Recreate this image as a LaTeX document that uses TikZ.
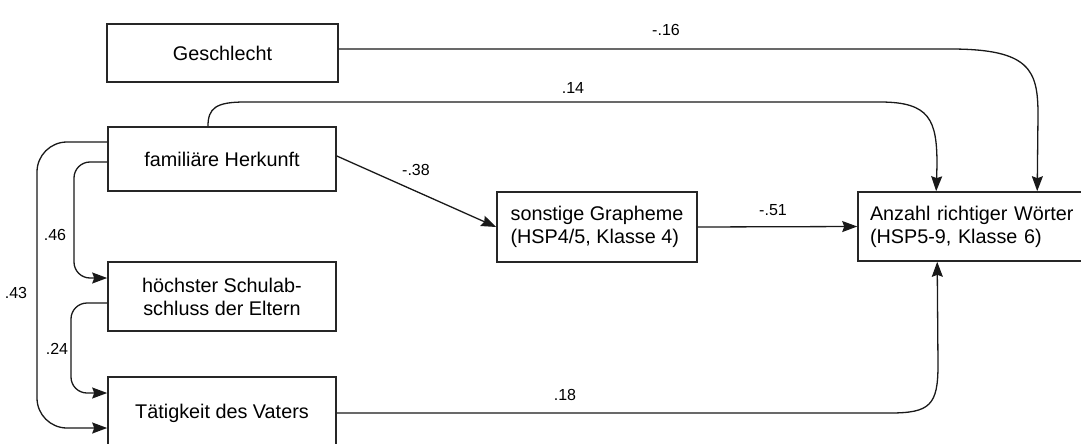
\documentclass[tikz,border=0pt]{standalone}
\usepackage{fontspec}
\setmainfont{Liberation Sans}
\usetikzlibrary{arrows.meta}
\begin{document}
\begin{tikzpicture}[x=1pt,y=-1pt,
  box/.style={draw=black!85,line width=1.6pt,inner sep=0pt,font=\fontsize{19.8}{23}\selectfont},
  lab/.style={inner sep=0pt,font=\fontsize{16}{18}\selectfont},
  arr/.style={draw=black!90,line width=1.3pt,-{Stealth[length=15pt,width=11pt,inset=2pt]}}]
\useasboundingbox (0,0) rectangle (1081,444);
\node[box,minimum width=231pt,minimum height=58pt] (ges) at (222.5,53) {Geschlecht};
\node[box,minimum width=228pt,minimum height=64pt] (fam) at (222,159) {familiäre Herkunft};
\node[box,minimum width=228pt,minimum height=69pt,align=center] (hoch) at (222,296.5) {höchster Schulab-\\schluss der Eltern};
\node[box,minimum width=228pt,minimum height=72pt] (tat) at (222,413) {Tätigkeit des Vaters};
\node[box,minimum width=200pt,minimum height=70pt,align=left] (son) at (597,227) {sonstige Grapheme\\(HSP4/5, Klasse 4)};
\node[box,minimum width=242pt,minimum height=69pt,text width=218pt,align=left] (anz) at (979,226.5) {Anzahl richtiger Wörter\\(HSP5-9, Klasse 6)};
% connectors
\draw[arr] ([yshift=4pt]ges.east) -- (950,49) .. controls (1030,49) and (1038,70) .. (1038,115) -- ([xshift=180pt]anz.north west);
\draw[arr] ([xshift=-14pt]fam.north) .. controls (208,108) and (216,102) .. (245,102) -- (880,102) .. controls (930,102) and (937,120) .. (937,165) -- ([xshift=79pt]anz.north west);
\draw[arr] ([yshift=3pt]fam.east) -- (son.west);
\draw[arr] (son.east) -- (anz.west);
\draw[arr] (tat.east) -- (890,413) .. controls (930,413) and (938,405) .. (938,365) -- ([xshift=80pt]anz.south west);
\draw[arr,rounded corners=16pt] ([yshift=-3pt]fam.west) -| (74,220) |- ([yshift=18.5pt]hoch.west);
\draw[arr,rounded corners=16pt] ([yshift=-6.5pt]hoch.west) -| (71,350) |- ([yshift=20pt]tat.west);
\draw[arr,rounded corners=30pt] ([yshift=17pt]fam.west) -| (37,300) |- ([yshift=-15pt]tat.west);
% labels
\node[lab] (l1) at (666,30) {-.16};
\node[lab] (l2) at (573,88) {.14};
\node[lab] (l3) at (416,170) {-.38};
\node[lab] (l4) at (773,210) {-.51};
\node[lab] (l5) at (565,395) {.18};
\node[lab] (l6) at (55,235) {.46};
\node[lab] (l7) at (16,293) {.43};
\node[lab] (l8) at (57,349) {.24};
\end{tikzpicture}
\end{document}
